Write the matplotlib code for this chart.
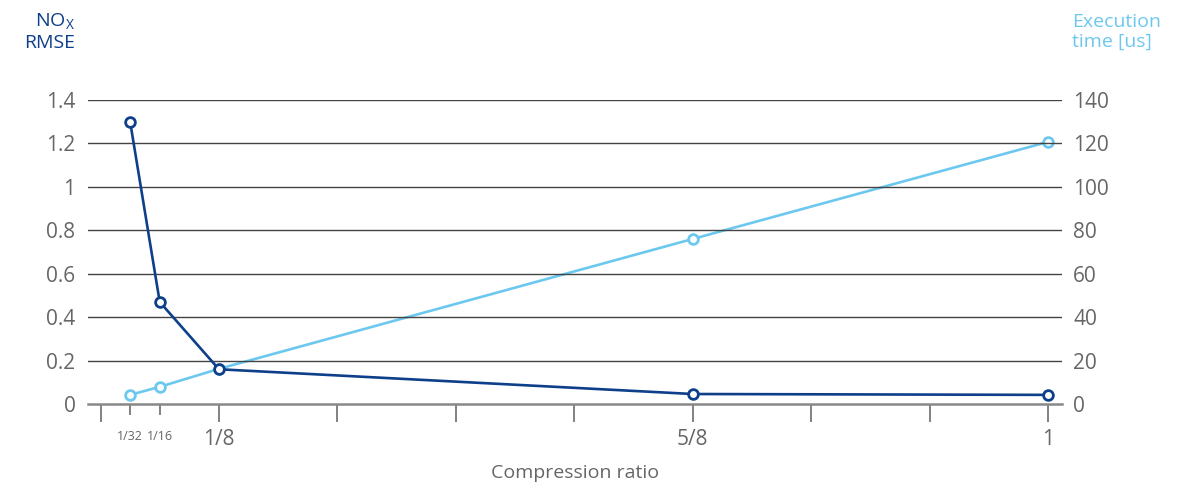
import matplotlib
matplotlib.use("Agg")
import matplotlib.pyplot as plt
from matplotlib.ticker import FixedLocator, FixedFormatter

# compression ratios and measured values
ratios = [1/32, 1/16, 1/8, 5/8, 1]
nox_rmse = [1.30, 0.47, 0.16, 0.046, 0.042]
exec_time_us = [4.2, 7.9, 16.2, 76, 120.7]

major_ticks = [i / 8 for i in range(9)]
major_labels = ["", "1/8", "", "", "", "5/8", "", "", "1"]
minor_ticks = [1/32, 1/16]
minor_labels = ["1/32", "1/16"]

left_ticks = [0, 0.2, 0.4, 0.6, 0.8, 1.0, 1.2, 1.4]
left_labels = ["0", "0.2", "0.4", "0.6", "0.8", "1", "1.2", "1.4"]
right_ticks = [0, 20, 40, 60, 80, 100, 120, 140]

DARK = "#0d3f8a"
LIGHT = "#6cc8ef"
GRAY = "#666666"

plt.rcParams["font.family"] = ["Open Sans", "DejaVu Sans"]

fig = plt.figure(figsize=(11.86, 4.91), dpi=100)
ax = fig.add_axes([88 / 1186, 87 / 491, 974 / 1186, 304 / 491])
ax2 = ax.twinx()

ax.set_xlim(-0.0132, 1.0148)
ax.set_ylim(0, 1.4)
ax2.set_ylim(0, 140)

for a in (ax, ax2):
    for s in a.spines.values():
        s.set_visible(False)

ax.spines["bottom"].set_visible(True)
ax.spines["bottom"].set_color("#888888")
ax.spines["bottom"].set_linewidth(1.8)

# horizontal grid lines
for y in left_ticks[1:]:
    ax.axhline(y, color="#444444", lw=1.0, zorder=1)

ax.set_yticks(left_ticks)
ax.set_yticklabels(left_labels)
ax.tick_params(axis="y", length=0, pad=9, labelsize=15, labelcolor=GRAY)
ax2.set_yticks(right_ticks)
ax2.tick_params(axis="y", length=0, pad=8, labelsize=15, labelcolor=GRAY)

ax.xaxis.set_major_locator(FixedLocator(major_ticks))
ax.xaxis.set_major_formatter(FixedFormatter(major_labels))
ax.xaxis.set_minor_locator(FixedLocator(minor_ticks))
ax.xaxis.set_minor_formatter(FixedFormatter(minor_labels))
ax.tick_params(axis="x", which="major", length=13, width=1.3, color="#777777",
               direction="out", pad=5, labelsize=15, labelcolor=GRAY)
ax.tick_params(axis="x", which="minor", length=8, width=1.3, color="#777777",
               direction="out", pad=11, labelsize=9, labelcolor=GRAY)
ax.set_xlabel("Compression ratio", fontsize=14, color=GRAY, labelpad=10)

ax2.plot(ratios, exec_time_us, color=LIGHT, lw=1.9, marker="o", ms=7,
         mfc="white", mec=LIGHT, mew=2.0, clip_on=False, zorder=3)
ax.plot(ratios, nox_rmse, color=DARK, lw=1.9, marker="o", ms=7,
        mfc="white", mec=DARK, mew=2.0, clip_on=False, zorder=4)
ax.set_zorder(ax2.get_zorder() + 1)
ax.patch.set_visible(False)

fig.text(75 / 1186, 1 - 32 / 491, "NO$_\\mathregular{X}$\nRMSE", ha="right", va="center",
         fontsize=14, color=DARK, linespacing=1.15)
fig.text(1072 / 1186, 1 - 32 / 491, "Execution\ntime [us]", ha="left", va="center",
         fontsize=14, color=LIGHT, linespacing=1.15)

fig.savefig("out.png", dpi=100)
